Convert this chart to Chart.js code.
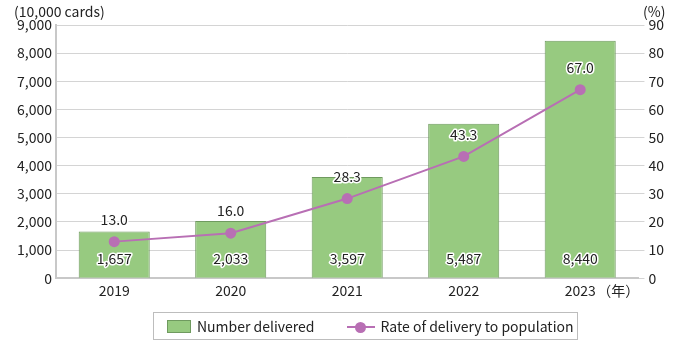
<!DOCTYPE html>
<html><head><meta charset="utf-8">
<script src="https://cdn.jsdelivr.net/npm/chart.js@4"></script>
<style>
html,body{margin:0;padding:0;background:#fff;}
#wrap{position:relative;width:679px;height:343px;}
#legend{position:absolute;left:153px;top:312px;width:425px;height:28px;border:1px solid #bdbdbd;box-sizing:border-box;display:flex;align-items:center;font:14px "Noto Sans CJK JP","Noto Sans",sans-serif;color:#222;}
.sw{display:inline-block;width:24px;height:13px;background:#97CA80;border:1px solid #6f9a5f;margin-left:13px;margin-right:6px;box-sizing:border-box}
.ln{position:relative;display:inline-block;width:28px;height:13px;margin-left:32px;margin-right:6px}
.ln:before{content:"";position:absolute;left:0;right:0;top:6px;height:2px;background:#B86FB4}
.ln:after{content:"";position:absolute;left:8px;top:2px;width:11px;height:11px;border-radius:50%;background:#B86FB4}
</style></head><body>
<div id="wrap"><canvas id="c" width="679" height="343"></canvas>
<div id="legend"><span class="sw"></span><span>Number delivered</span><span class="ln"></span><span>Rate of delivery to population</span></div>
</div>
<script>
const years = ["2019","2020","2021","2022","2023"];
const delivered = [1657, 2033, 3597, 5487, 8440];
const rate = [13.0, 16.0, 28.3, 43.3, 67.0];
const leftTicks = {min:0, max:9000, step:1000};
const rightTicks = {min:0, max:90, step:10};
const FONT = '"Noto Sans CJK JP","Noto Sans",sans-serif';

const labelPlugin = {
  id:'labels',
  afterDatasetsDraw(chart){
    const ctx = chart.ctx;
    ctx.save();
    ctx.font = '14px ' + FONT;
    ctx.textAlign='center'; ctx.textBaseline='middle';
    ctx.lineJoin='round';
    const barMeta = chart.getDatasetMeta(1);
    const lineMeta = chart.getDatasetMeta(0);
    const yb = chart.scales.y.getPixelForValue(0);
    barMeta.data.forEach((b,i)=>{
      const t = delivered[i].toLocaleString('en-US');
      ctx.lineWidth=3; ctx.strokeStyle='#fff'; ctx.strokeText(t,b.x,yb-20);
      ctx.fillStyle='#222'; ctx.fillText(t,b.x,yb-20);
    });
    lineMeta.data.forEach((p,i)=>{
      const t = rate[i].toFixed(1);
      ctx.lineWidth=3; ctx.strokeStyle='#fff'; ctx.strokeText(t,p.x,p.y-22);
      ctx.fillStyle='#222'; ctx.fillText(t,p.x,p.y-22);
    });
    ctx.restore();
  },
  afterDraw(chart){
    const ctx = chart.ctx;
    ctx.save();
    ctx.font = '14px ' + FONT;
    ctx.fillStyle='#222';
    ctx.textBaseline='middle';
    ctx.textAlign='left';
    ctx.fillText('(10,000 cards)', 14, 12);
    ctx.fillText('(%)', 643, 12);
    const xs = chart.scales.x;
    const x = xs.getPixelForValue(4);
    ctx.fillText('（年）', x+17, 291);
    ctx.restore();
  }
};

new Chart(document.getElementById('c'), {
  data:{
    labels: years,
    datasets:[
      {type:'line', label:'Rate of delivery to population', data:rate, yAxisID:'y1',
       borderColor:'#B86FB4', backgroundColor:'#B86FB4', borderWidth:2,
       pointRadius:5.5, pointHoverRadius:5.5, pointBackgroundColor:'#B86FB4', pointBorderWidth:0, tension:0, order:0},
      {type:'bar', label:'Number delivered', data:delivered, yAxisID:'y',
       backgroundColor:'#97CA80', borderColor:'#6f9a5f', borderWidth:1,
       categoryPercentage:1, barPercentage:0.61, order:1}
    ]
  },
  plugins:[labelPlugin],
  options:{
    responsive:false, animation:false,
    layout:{padding:{top:25, bottom:40, left:13, right:11}},
    plugins:{legend:{display:false}, tooltip:{enabled:false}},
    scales:{
      x:{grid:{display:false, drawTicks:false}, border:{color:'#c8c8c8', width:2},
         ticks:{color:'#222', font:{size:14, family:FONT}, padding:4}},
      y:{position:'left', min:leftTicks.min, max:leftTicks.max,
         ticks:{stepSize:leftTicks.step, color:'#222', font:{size:14, family:FONT}, padding:4,
                callback:v=>v.toLocaleString('en-US')},
         grid:{color:'#d4d4d4', lineWidth:1, drawTicks:false}, border:{color:'#c8c8c8', width:2}},
      y1:{position:'right', min:rightTicks.min, max:rightTicks.max,
         ticks:{stepSize:rightTicks.step, color:'#222', font:{size:14, family:FONT}, padding:4},
         grid:{display:true, drawOnChartArea:false, drawTicks:true, tickLength:6, color:'#d4d4d4'}, border:{display:false}}
    }
  }
});
</script></body></html>
